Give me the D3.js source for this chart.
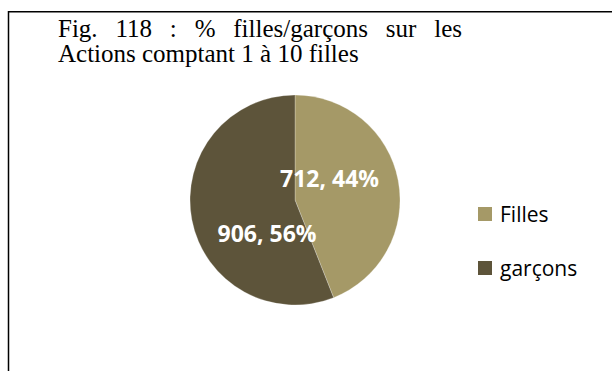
<!DOCTYPE html>
<html><head><meta charset="utf-8">
<script src="https://cdn.jsdelivr.net/npm/d3@7"></script>
<style>
html,body{margin:0;padding:0;background:#fff;}
svg{display:block;}
</style></head>
<body>
<svg id="c" width="612" height="371"></svg>
<script>
// ---- data ----
const categories = ["Filles", "garçons"];
const values = [712, 906];
const colors = ["#A59967", "#5D543A"];
const titleLines = ["Fig. 118 : % filles/garçons sur les", "Actions comptant 1 à 10 filles"];

// ---- layout ----
const W = 612, H = 371;
const cx = 295, cy = 200, R = 105;
const labelOffsets = [[34.5, -13], [-28, 42]]; // label anchor relative to pie centre

const svg = d3.select("#c");
svg.append("rect").attr("width", W).attr("height", H).attr("fill", "#fff");

// frame (left and top edges visible)
svg.append("path").attr("d", "M8.5,371 L8.5,11.8 L612,11.8")
  .attr("fill", "none").attr("stroke", "#000").attr("stroke-width", 1.5);

// title, first line justified
const titleFont = "'Liberation Serif', 'Times New Roman', serif";
const tx0 = 58, tx1 = 462;
const words = titleLines[0].split(" ");
const tg = svg.append("g").attr("font-family", titleFont).attr("font-size", 25).attr("fill", "#000");
const tmp = tg.selectAll("text.w").data(words).enter().append("text").attr("class", "w")
  .attr("y", 37).text(d => d);
const widths = [];
tmp.each(function(){ widths.push(this.getComputedTextLength()); });
const total = d3.sum(widths);
const gap = (tx1 - tx0 - total) / (words.length - 1);
let xx = tx0;
tmp.each(function(d, i){ d3.select(this).attr("x", xx); xx += widths[i] + gap; });
tg.append("text").attr("x", tx0).attr("y", 62).text(titleLines[1]);

// pie
const pie = d3.pie().sort(null).value(d => d)(values);
const arc = d3.arc().innerRadius(0).outerRadius(R);
const g = svg.append("g").attr("transform", `translate(${cx},${cy})`);
g.selectAll("path").data(pie).enter().append("path")
  .attr("d", arc).attr("fill", (d, i) => colors[i])
  .attr("stroke", "#fff").attr("stroke-width", 0.5).attr("stroke-opacity", 0.5);

const total2 = d3.sum(values);
const pct = d3.format(".0%");
g.selectAll("text.lbl").data(pie).enter().append("text").attr("class", "lbl")
  .attr("x", (d, i) => labelOffsets[i][0]).attr("y", (d, i) => labelOffsets[i][1])
  .attr("text-anchor", "middle")
  .attr("font-family", "'Open Sans', sans-serif").attr("font-weight", "bold")
  .attr("font-size", 23).attr("fill", "#fff")
  .text(d => `${d.data}, ${pct(d.data / total2)}`);

// legend
const leg = svg.append("g").attr("transform", "translate(478,207)");
const items = leg.selectAll("g").data(categories).enter().append("g")
  .attr("transform", (d, i) => `translate(0,${i * 54})`);
items.append("rect").attr("width", 14).attr("height", 14).attr("fill", (d, i) => colors[i]);
items.append("text").attr("x", 22).attr("y", 15)
  .attr("font-family", "'Open Sans', sans-serif").attr("font-size", 21).attr("fill", "#000")
  .text(d => d);
</script>
</body></html>
